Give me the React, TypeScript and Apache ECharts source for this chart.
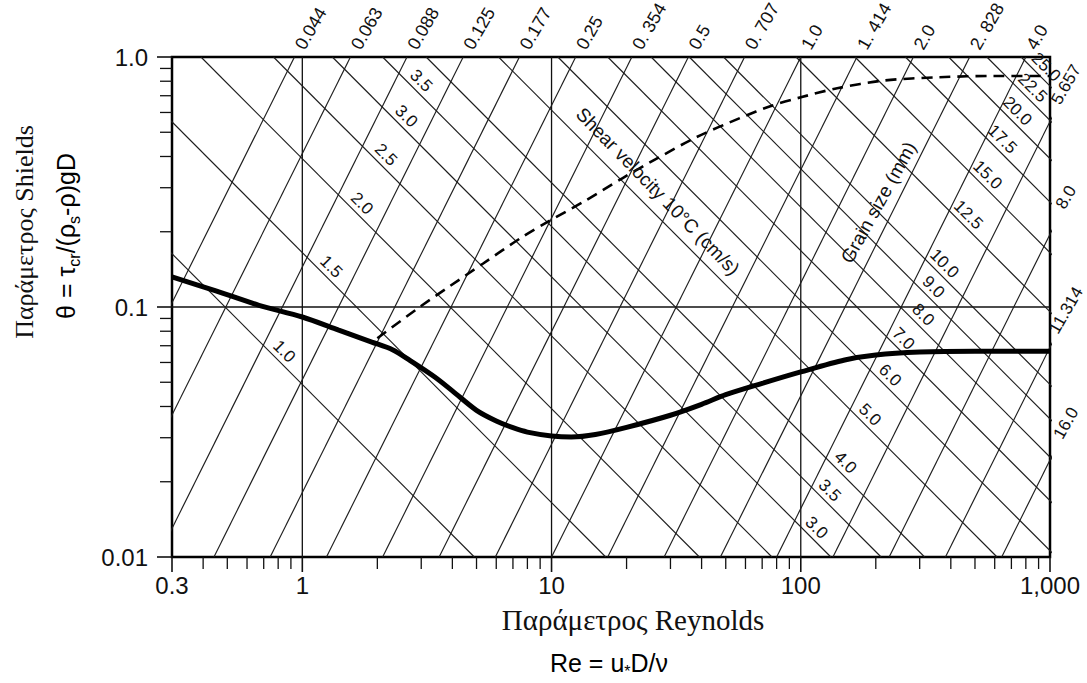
import React, { useEffect, useRef } from "react";
import * as echarts from "echarts";

// ---------- axes ----------
const RE_MIN = 0.3;
const RE_MAX = 1000;
const TH_MIN = 0.01;
const TH_MAX = 1;

const reTickValues = [0.3, 1, 10, 100, 1000];
const reTickLabels = ["0.3", "1", "10", "100", "1,000"];
const reMinorTicks = [
  0.4, 0.5, 0.6, 0.7, 0.8, 0.9, 2, 3, 4, 5, 6, 7, 8, 9, 20, 30, 40, 50, 60, 70, 80, 90,
  200, 300, 400, 500, 600, 700, 800, 900,
];
const thetaTickValues = [0.01, 0.1, 1];
const thetaTickLabels = ["0.01", "0.1", "1.0"];
const thetaMinorTicks = [0.02, 0.03, 0.04, 0.05, 0.06, 0.07, 0.08, 0.09, 0.2, 0.3, 0.4, 0.5, 0.6, 0.7, 0.8, 0.9];
const reGridValues = [1, 10, 100];
const thetaGridValues = [0.1];

// ---------- Shields curve ----------
const shieldsRe = [0.3, 0.45, 0.67, 1, 1.4, 1.9, 2.3, 2.7, 3.4, 4, 5, 6, 7, 8, 10, 12, 15, 20, 30, 40, 50, 70, 100, 150, 200, 300, 500, 1000];
const shieldsTheta = [0.132, 0.116, 0.1016, 0.0912, 0.0808, 0.0724, 0.0675, 0.0612, 0.0525, 0.0462, 0.0386, 0.035, 0.0329, 0.0316, 0.0305, 0.0302, 0.0309, 0.033, 0.0369, 0.0408, 0.0446, 0.0495, 0.055, 0.0614, 0.0643, 0.066, 0.0665, 0.0665];

// ---------- shear velocity 10°C curve (dashed) ----------
const shearCurveRe = [2.0, 2.95, 3.9, 5.3, 7.6, 9.8, 13.3, 19.3, 27, 38, 57, 77, 100, 140, 215, 360, 600, 1000];
const shearCurveTheta = [0.075, 0.0998, 0.121, 0.149, 0.19, 0.221, 0.262, 0.328, 0.397, 0.477, 0.57, 0.64, 0.69, 0.75, 0.805, 0.83, 0.84, 0.84];

// ---------- grain size lines (mm): Re where each line meets θ = 1 ----------
const grainLabels = ["0.044", "0.063", "0.088", "0.125", "0.177", "0.25", "0. 354", "0.5", "0. 707", "1.0", "1. 414", "2.0", "2. 828", "4.0", "5.657", "8.0", "11.314", "16.0"];
const grainTopRe = [0.93, 1.56, 2.63, 4.42, 7.43, 12.5, 21.0, 35.4, 59.5, 100, 168, 283, 476, 800, 1346, 2263, 3806, 6400];

// ---------- shear velocity lines (cm/s): Re where each line meets θ = 1 ----------
const shearLabels = ["1.0", "1.5", "2.0", "2.5", "3.0", "3.5", "4.0", "5.0", "6.0", "7.0", "8.0", "9.0", "10.0", "12.5", "15.0", "17.5", "20.0", "22.5", "25.0"];
const shearTopRe = [0.049, 0.165, 0.392, 0.766, 1.32, 2.1, 3.14, 6.13, 10.6, 16.8, 25.1, 35.7, 49.0, 95.7, 165, 263, 392, 558, 766];
// Re along each line where its label sits (upper-left group / lower-right group)
const shearLabelLeftRe = [0.79, 1.22, 1.62, 2.02, 2.44, 2.8, null, null, null, null, null, null, null, null, null, null, null, null, null];
const shearLabelRightRe = [null, null, null, null, 108, 122, 141, 177, 213, 241, 289, 318, 352, 439, 524, 601, 691, 794, 900];

const SANS = 'Arial, "Liberation Sans", Helvetica, sans-serif';
const SERIF = '"Times New Roman", "Liberation Serif", serif';
const INK = "#111";

function buildOption(): any {
  const series: any[] = [];

  // frame: gridlines, ticks, tick labels
  series.push({
    type: "custom",
    coordinateSystem: "cartesian2d",
    data: [[1, 0.1]],
    silent: true,
    clip: false,
    z: 1,
    renderItem: (_p: any, api: any) => {
      const ch: any[] = [];
      const ln = (x1: number, y1: number, x2: number, y2: number, w: number) =>
        ch.push({ type: "line", shape: { x1, y1, x2, y2 }, style: { stroke: INK, lineWidth: w } });
      reGridValues.forEach((v) => {
        const a = api.coord([v, TH_MIN]);
        const b = api.coord([v, TH_MAX]);
        ln(a[0], a[1], b[0], b[1], 1.3);
      });
      thetaGridValues.forEach((v) => {
        const a = api.coord([RE_MIN, v]);
        const b = api.coord([RE_MAX, v]);
        ln(a[0], a[1], b[0], b[1], 1.3);
      });
      reTickValues.forEach((v, i) => {
        const a = api.coord([v, TH_MIN]);
        ln(a[0], a[1], a[0], a[1] + 15, 1.6);
        ch.push({
          type: "text", x: a[0], y: a[1] + 28,
          style: { text: reTickLabels[i], font: `24px ${SANS}`, fill: INK, align: "center", verticalAlign: "middle" },
        });
      });
      reMinorTicks.forEach((v) => {
        const a = api.coord([v, TH_MIN]);
        ln(a[0], a[1], a[0], a[1] + 12, 1.3);
      });
      thetaTickValues.forEach((v, i) => {
        const a = api.coord([RE_MIN, v]);
        ln(a[0], a[1], a[0] - 15, a[1], 1.6);
        ch.push({
          type: "text", x: a[0] - 24, y: a[1],
          style: { text: thetaTickLabels[i], font: `24px ${SANS}`, fill: INK, align: "right", verticalAlign: "middle" },
        });
      });
      thetaMinorTicks.forEach((v) => {
        const a = api.coord([RE_MIN, v]);
        ln(a[0], a[1], a[0] - 12, a[1], 1.3);
      });
      return { type: "group", children: ch };
    },
  });

  // grain size lines (slope 2 in log-log)
  grainTopRe.forEach((re0, i) => {
    series.push({
      type: "line",
      name: "D " + grainLabels[i],
      data: [[re0 / 10, TH_MIN], [re0, TH_MAX]],
      symbol: "none",
      silent: true,
      clip: true,
      lineStyle: { color: "#1c1c1c", width: 1.15 },
      z: 2,
    });
  });

  // shear velocity lines (slope -1 in log-log)
  shearTopRe.forEach((re0, i) => {
    series.push({
      type: "line",
      name: "u* " + shearLabels[i],
      data: [[re0, TH_MAX], [re0 * 100, TH_MIN]],
      symbol: "none",
      silent: true,
      clip: true,
      lineStyle: { color: "#1c1c1c", width: 1.15 },
      z: 2,
    });
  });

  // shear velocity at 10°C (dashed)
  series.push({
    type: "line",
    name: "Shear velocity 10°C",
    data: shearCurveRe.map((r, i) => [r, shearCurveTheta[i]]),
    symbol: "none",
    smooth: 0.3,
    silent: true,
    clip: true,
    lineStyle: { color: "#000", width: 2.6, type: [11, 7] },
    z: 4,
  });

  // Shields curve
  series.push({
    type: "line",
    name: "Shields",
    data: shieldsRe.map((r, i) => [r, shieldsTheta[i]]),
    symbol: "none",
    smooth: 0.3,
    silent: true,
    clip: true,
    lineStyle: { color: "#000", width: 5 },
    z: 5,
  });

  // labels on the line families
  series.push({
    type: "custom",
    coordinateSystem: "cartesian2d",
    data: [[1, 0.1]],
    silent: true,
    clip: false,
    z: 10,
    renderItem: (_p: any, api: any) => {
      const ch: any[] = [];
      const txt = (x: number, y: number, text: string, rot: number, size: number, align: string) =>
        ch.push({
          type: "text", x, y, rotation: rot,
          style: { text, font: `${size}px ${SANS}`, fill: INK, align, verticalAlign: "middle" },
        });
      grainTopRe.forEach((re0, i) => {
        if (re0 <= RE_MAX) {
          const p = api.coord([re0, TH_MAX]);
          txt(p[0] + 5, p[1] - 9, grainLabels[i], Math.PI / 3, 18, "left");
        } else {
          const p = api.coord([RE_MAX, Math.pow(RE_MAX / re0, 2)]);
          txt(p[0] + 16, p[1] - 37, grainLabels[i], Math.PI / 3, 17, "center");
        }
      });
      shearTopRe.forEach((re0, i) => {
        [shearLabelLeftRe[i], shearLabelRightRe[i]].forEach((r) => {
          if (r == null) return;
          const p = api.coord([r, re0 / r]);
          txt(p[0] + 7.5, p[1] - 7.5, shearLabels[i], -Math.PI / 4, 17, "center");
        });
      });
      const s = api.coord([26.7, 0.29]);
      txt(s[0], s[1], "Shear velocity 10°C (cm/s)", -0.8, 19, "center");
      const g = api.coord([205, 0.262]);
      txt(g[0], g[1], "Grain size (mm)", 1.065, 19, "center");
      return { type: "group", children: ch };
    },
  });

  const rich = {
    a: { fontSize: 25, fontFamily: SANS, color: INK, lineHeight: 32 },
    s: { fontSize: 16, fontFamily: SANS, color: INK, lineHeight: 32, verticalAlign: "bottom" },
  };

  return {
    animation: false,
    backgroundColor: "#fff",
    grid: { left: 172, right: 37, top: 57, bottom: 126, show: true, borderColor: "#000", borderWidth: 2.5, backgroundColor: "transparent" },
    xAxis: {
      type: "log", logBase: 10, min: RE_MIN, max: RE_MAX,
      axisLine: { show: false }, axisTick: { show: false }, axisLabel: { show: false }, splitLine: { show: false },
    },
    yAxis: {
      type: "log", logBase: 10, min: TH_MIN, max: TH_MAX,
      axisLine: { show: false }, axisTick: { show: false }, axisLabel: { show: false }, splitLine: { show: false },
    },
    series,
    graphic: [
      {
        type: "text", x: 24, y: 232, rotation: Math.PI / 2,
        style: { text: "Παράμετρος Shields", font: `26px ${SERIF}`, fill: INK, align: "center", verticalAlign: "middle" },
      },
      {
        type: "text", x: 66, y: 236, rotation: Math.PI / 2,
        style: { text: "{a|θ = τ}{s|cr}{a|/(ρ}{s|s}{a|-ρ)gD}", rich, align: "center", verticalAlign: "middle" },
      },
      {
        type: "text", x: 633, y: 620,
        style: { text: "Παράμετρος Reynolds", font: `29px ${SERIF}`, fill: INK, align: "center", verticalAlign: "middle" },
      },
      {
        type: "text", x: 609, y: 663,
        style: { text: "{a|Re = u}{s|*}{a|D/ν}", rich, align: "center", verticalAlign: "middle" },
      },
    ],
  };
}

export default function App() {
  const ref = useRef<HTMLDivElement>(null);
  useEffect(() => {
    if (!ref.current) return;
    const chart = echarts.init(ref.current, null, { renderer: "svg" });
    chart.setOption(buildOption());
    return () => chart.dispose();
  }, []);
  return (
    <div
      ref={ref}
      style={{ position: "fixed", left: 0, top: 0, width: 1087, height: 683, background: "#fff" }}
    />
  );
}
